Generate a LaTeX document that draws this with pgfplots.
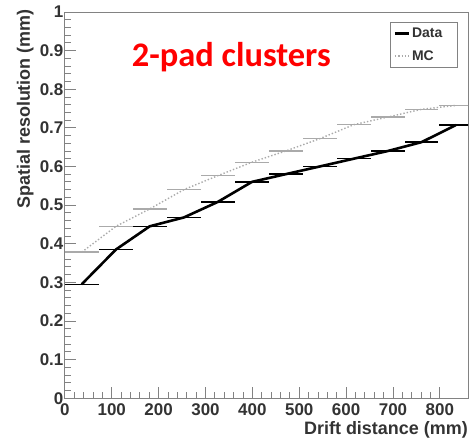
\documentclass[border=0pt]{standalone}
\usepackage{fontspec}
\setmainfont{Liberation Sans}
\newfontfamily\carlito{Carlito}
\usepackage{pgfplots}
\pgfplotsset{compat=1.18}
\pgfplotstableread{
x xerr y
36 36 0.295
109 36 0.385
181 36 0.445
254 36 0.468
326 36 0.508
399 36 0.560
471 36 0.580
544 36 0.600
616 36 0.620
689 36 0.640
761 36 0.663
834 36 0.707
}\datatab
\pgfplotstableread{
x xerr y
36 36 0.378
109 36 0.445
181 36 0.490
254 36 0.540
326 36 0.576
399 36 0.611
471 36 0.640
544 36 0.672
616 36 0.708
689 36 0.728
761 36 0.748
834 36 0.758
}\mctab
\definecolor{axgray}{RGB}{130,130,130}
\definecolor{mcgray}{RGB}{170,170,170}
\begin{document}
\begin{tikzpicture}
\begin{axis}[name=ax, scale only axis, width=404pt, height=387pt,
  xmin=0, xmax=860, ymin=0, ymax=1,
  xtick={0,100,200,300,400,500,600,700,800},
  ytick={0,0.1,0.2,0.3,0.4,0.5,0.6,0.7,0.8,0.9,1},
  minor x tick num=4, minor y tick num=4,
  tick align=inside, xtick pos=bottom, ytick pos=left,
  major tick length=11pt, minor tick length=6pt,
  axis line style={axgray, line width=0.8pt},
  every tick/.style={axgray, line width=0.8pt},
  /pgf/number format/assume math mode=true,
  tick label style={font=\bfseries\fontsize{17}{17}\selectfont, text=black!80},
  yticklabel style={/pgf/number format/fixed, /pgf/number format/precision=1, xshift=2pt},
  xticklabel style={yshift=-2pt},
  legend style={at={(rel axis cs:0.973,0.974)}, anchor=north east, draw=axgray,
    font=\bfseries\fontsize{14}{14}\selectfont, text=black!80, inner xsep=3pt, inner ysep=4pt,
    row sep=7pt, nodes={text width=40pt}},
  legend cell align=left,
  legend image code/.code={\draw[#1] (0pt,0pt) -- (14pt,0pt);},
]
\addplot[black, line width=2.6pt, mark=none,
  error bars/.cd, x dir=both, x explicit,
  error mark=none, error bar style={black, line width=1.4pt, solid}]
  table[x=x, y=y, x error=xerr] {\datatab};
\addlegendentry{Data}
\addplot[mcgray, line width=1.4pt, dotted, mark=none,
  error bars/.cd, x dir=both, x explicit,
  error mark=none, error bar style={mcgray, line width=1.4pt, solid}]
  table[x=x, y=y, x error=xerr] {\mctab};
\addlegendentry{MC}
\end{axis}
\node[anchor=base west, inner sep=0, text=red, font=\carlito\bfseries\fontsize{34.5}{34.5}\selectfont]
  at ([shift={(67pt,-55pt)}]ax.north west) {2-pad clusters};
\node[rotate=90, anchor=base east, inner sep=0, text=black!80, font=\bfseries\fontsize{18}{18}\selectfont]
  at ([shift={(-35pt,3pt)}]ax.north west) {Spatial resolution (mm)};
\node[anchor=base east, inner sep=0, text=black!80, font=\bfseries\fontsize{18}{18}\selectfont]
  at ([shift={(0pt,-36pt)}]ax.south east) {Drift distance (mm)};
\pgfresetboundingbox
\path ([shift={(-65pt,-41pt)}]ax.south west) rectangle ([shift={(2pt,12pt)}]ax.north east);
\end{tikzpicture}
\end{document}
